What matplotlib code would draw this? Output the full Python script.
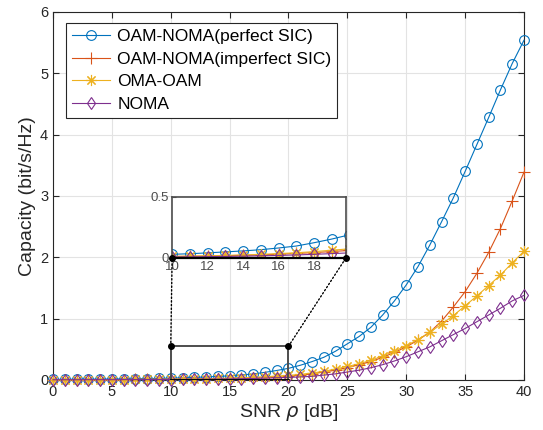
import matplotlib
matplotlib.use("Agg")
import matplotlib.pyplot as plt
from matplotlib.patches import Rectangle, ConnectionPatch

plt.rcParams['font.family'] = ['Liberation Sans', 'DejaVu Sans']

# SNR in dB, one point per dB
snr = list(range(0, 41))

# capacity values (bit/s/Hz)
perfect_sic = [0.010, 0.011, 0.012, 0.013, 0.014, 0.016, 0.018, 0.020, 0.023, 0.026,
               0.030, 0.035, 0.042, 0.050, 0.058, 0.068, 0.082, 0.098, 0.125, 0.155,
               0.190, 0.240, 0.300, 0.370, 0.470, 0.590, 0.710, 0.860, 1.060, 1.290,
               1.550, 1.850, 2.200, 2.580, 2.970, 3.400, 3.840, 4.280, 4.730, 5.160,
               5.540]
imperfect_sic = [0.005, 0.005, 0.006, 0.006, 0.007, 0.007, 0.008, 0.009, 0.010, 0.011,
                 0.012, 0.014, 0.016, 0.019, 0.022, 0.026, 0.031, 0.037, 0.044, 0.053,
                 0.062, 0.080, 0.100, 0.130, 0.160, 0.200, 0.250, 0.300, 0.370, 0.450,
                 0.540, 0.650, 0.780, 0.960, 1.190, 1.440, 1.740, 2.080, 2.470, 2.920,
                 3.390]
oma_oam = [0.005, 0.005, 0.006, 0.006, 0.007, 0.007, 0.008, 0.009, 0.010, 0.011,
           0.013, 0.015, 0.018, 0.021, 0.025, 0.030, 0.036, 0.043, 0.052, 0.064,
           0.075, 0.090, 0.115, 0.140, 0.180, 0.220, 0.265, 0.320, 0.390, 0.470,
           0.560, 0.660, 0.780, 0.910, 1.050, 1.210, 1.370, 1.540, 1.710, 1.910,
           2.100]
noma = [0.004, 0.004, 0.004, 0.005, 0.005, 0.005, 0.006, 0.006, 0.007, 0.007,
        0.008, 0.009, 0.011, 0.013, 0.015, 0.018, 0.021, 0.025, 0.030, 0.036,
        0.042, 0.050, 0.060, 0.080, 0.100, 0.130, 0.160, 0.200, 0.250, 0.310,
        0.380, 0.460, 0.540, 0.640, 0.740, 0.840, 0.950, 1.060, 1.170, 1.290,
        1.380]

labels = ['OAM-NOMA(perfect SIC)', 'OAM-NOMA(imperfect SIC)', 'OMA-OAM', 'NOMA']
series = [perfect_sic, imperfect_sic, oma_oam, noma]
colors = ['#0072BD', '#D95319', '#EDB120', '#7E2F8E']
markers = ['o', '+', (8, 2, 0), 'd']   # (8, 2, 0) = 8-spoke asterisk like MATLAB '*'
msizes = [7, 9, 8, 6.5]

fig = plt.figure(figsize=(5.43, 4.30), dpi=100)
ax = fig.add_axes([0.0976, 0.1163, 0.8674, 0.8558])

for ys, lab, c, m, ms in zip(series, labels, colors, markers, msizes):
    ax.plot(snr, ys, color=c, marker=m, markersize=ms, markerfacecolor='none',
            markeredgewidth=0.8, linewidth=0.8, label=lab, clip_on=False, zorder=3)

ax.set_xlim(0, 40)
ax.set_ylim(0, 6)
ax.set_xticks(range(0, 41, 5))
ax.set_yticks(range(0, 7))
ax.grid(True, color='#e3e3e3', linewidth=0.8)
ax.set_axisbelow(True)
ax.tick_params(direction='in', top=True, right=True, labelsize=10.5,
               colors='#262626', length=4)
for sp in ax.spines.values():
    sp.set_color('#262626')
    sp.set_linewidth(0.8)
ax.set_xlabel('SNR $\\rho$ [dB]', fontsize=14, color='#262626', labelpad=2)
ax.set_ylabel('Capacity (bit/s/Hz)', fontsize=14, color='#262626', labelpad=3)

leg = ax.legend(loc='upper left', bbox_to_anchor=(0.0276, 0.970), borderaxespad=0,
                fontsize=12.5, fancybox=False, framealpha=1, handlelength=2.2,
                handletextpad=0.4, labelspacing=0.42, borderpad=0.35)
leg.get_frame().set_edgecolor('#262626')
leg.get_frame().set_linewidth(0.8)

# zoom box on the main axes
ax.add_patch(Rectangle((10, 0), 10, 0.55, fill=False, edgecolor='#4d4d4d',
                       linewidth=1.4, zorder=4))
ax.plot([10, 20], [0.0, 0.0], color='black', linewidth=2, zorder=5)

# inset
axins = fig.add_axes([0.317, 0.400, 0.320, 0.142])
for ys, c, m, ms in zip(series, colors, markers, msizes):
    axins.plot(snr, ys, color=c, marker=m, markersize=ms, markerfacecolor='none',
               markeredgewidth=0.8, linewidth=0.8)
axins.set_xlim(10, 19.8)
axins.set_ylim(0, 0.5)
axins.set_xticks([10, 12, 14, 16, 18])
axins.set_yticks([0, 0.5])
axins.set_yticklabels(['0', '0.5'])
axins.tick_params(direction='in', labelsize=9.5, colors='#4d4d4d', length=3, pad=2)
for sp in axins.spines.values():
    sp.set_color('#4d4d4d')
    sp.set_linewidth(1.2)
axins.spines['bottom'].set_color('black')
axins.spines['bottom'].set_linewidth(1.6)

# connectors from the zoom box to the inset
for xa, xb in [(10, 0), (20, 1)]:
    con = ConnectionPatch(xyA=(xa, 0.55), coordsA=ax.transData,
                          xyB=(xb, 0), coordsB=axins.transAxes,
                          linestyle=':', color='black', linewidth=1)
    fig.add_artist(con)
    ax.plot([xa], [0.55], 'o', color='black', markersize=4, zorder=6)
    axins.plot([xb], [0], 'o', color='black', markersize=4, transform=axins.transAxes,
               clip_on=False, zorder=6)

fig.savefig('out.png', dpi=100)
